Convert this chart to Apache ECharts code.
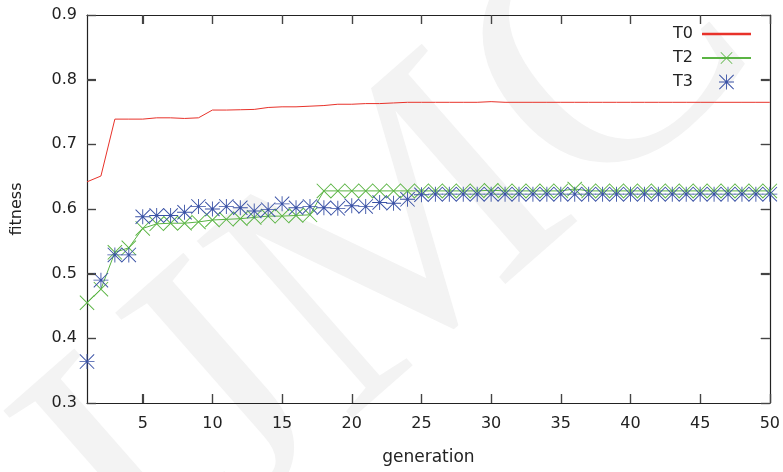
<!DOCTYPE html>
<html>
<head>
<meta charset="utf-8">
<script src="https://cdn.jsdelivr.net/npm/echarts@6/dist/echarts.min.js"></script>
<style>html,body{margin:0;padding:0;background:#fff}#c{width:783px;height:472px}</style>
</head>
<body>
<div id="c"></div>
<script>
var generations = [];
for (var g = 1; g <= 50; g++) generations.push(g);

var T0 = [0.642,0.651,0.739,0.739,0.739,0.741,0.741,0.740,0.741,0.753,
          0.753,0.7535,0.754,0.757,0.758,0.758,0.759,0.760,0.762,0.762,
          0.763,0.763,0.764,0.765,0.765,0.765,0.765,0.765,0.765,0.766,
          0.765,0.765,0.765,0.765,0.765,0.765,0.765,0.765,0.765,0.765,
          0.765,0.765,0.765,0.765,0.765,0.765,0.765,0.765,0.765,0.765];
var T2 = [0.455,0.476,0.533,0.540,0.570,0.577,0.578,0.578,0.580,0.583,
          0.584,0.585,0.587,0.589,0.589,0.590,0.591,0.628,0.628,0.628,
          0.628,0.628,0.628,0.628,0.628,0.628,0.628,0.628,0.628,0.629,
          0.628,0.628,0.628,0.628,0.628,0.631,0.628,0.628,0.628,0.628,
          0.628,0.628,0.628,0.628,0.628,0.628,0.628,0.628,0.628,0.628];
var T3 = [0.364,0.490,0.529,0.529,0.588,0.590,0.590,0.595,0.604,0.600,
          0.604,0.602,0.597,0.599,0.608,0.602,0.604,0.602,0.601,0.605,
          0.604,0.610,0.609,0.615,0.622,0.623,0.623,0.623,0.623,0.623,
          0.623,0.623,0.623,0.623,0.623,0.623,0.623,0.623,0.623,0.623,
          0.623,0.623,0.623,0.623,0.623,0.623,0.623,0.623,0.623,0.623];
var xTicks = [5,10,15,20,25,30,35,40,45,50];
var yTicks = [0.3,0.4,0.5,0.6,0.7,0.8,0.9];
var seriesNames = ['T0','T2','T3'];

function pairs(arr){ return arr.map(function(v,i){ return [generations[i], v]; }); }

var crossPath = 'path://M0,0.45L0.45,0L10,9.55L9.55,10Z M9.55,0L10,0.45L0.45,10L0,9.55Z';
var starPath = 'path://M0,0.45L0.45,0L10,9.55L9.55,10Z M9.55,0L10,0.45L0.45,10L0,9.55Z M4.7,0L5.3,0L5.3,10L4.7,10Z M0,4.7L10,4.7L10,5.3L0,5.3Z';

var font = 'DejaVu Sans';
var watermark = {
  type: 'text', z: -10, silent: true,
  x: 395, y: 255, rotation: 0.72,
  style: { text: 'IJMC', font: '360px "Liberation Serif"', fill: '#f3f3f3',
           align: 'center', verticalAlign: 'middle' }
};
function tick(custom){
  var t = { show: true, inside: true, length: 9, lineStyle: { color: '#444', width: 1.2 } };
  if (custom) t.customValues = custom;
  return t;
}
var chart = echarts.init(document.getElementById('c'), null, {renderer:'canvas'});
chart.setOption({
  backgroundColor: '#fff',
  animation: false,
  graphic: [watermark],
  grid: { left: 87, right: 10, top: 15, bottom: 69 },
  legend: {
    right: 31, top: 26, orient: 'vertical', align: 'right',
    padding: 0, itemGap: 8, itemWidth: 49, itemHeight: 15,
    textStyle: { fontFamily: font, fontSize: 16, color: '#222', padding: [0, 4, 0, 0] },
    data: [
      { name: 'T0', icon: 'path://M0,4.75L10,4.75L10,5.25L0,5.25Z' },
      { name: 'T2' },
      { name: 'T3' }
    ]
  },
  xAxis: [{
    type: 'value', min: 1, max: 50, position: 'bottom',
    name: 'generation', nameLocation: 'middle', nameGap: 46,
    nameTextStyle: { fontFamily: font, fontSize: 17, color: '#222' },
    axisLine: { show: true, lineStyle: { color: '#222', width: 1.2 } },
    axisTick: tick(xTicks),
    axisLabel: { show: true, customValues: xTicks, margin: 13, fontFamily: font, fontSize: 16, color: '#222' },
    splitLine: { show: false }
  }, {
    type: 'value', min: 1, max: 50, position: 'top',
    axisLine: { show: true, lineStyle: { color: '#222', width: 1.2 } },
    axisTick: tick(xTicks),
    axisLabel: { show: false, customValues: xTicks },
    splitLine: { show: false }
  }],
  yAxis: [{
    type: 'value', min: 0.3, max: 0.9, interval: 0.1, position: 'left',
    name: 'fitness', nameLocation: 'middle', nameGap: 62, nameRotate: 90,
    nameTextStyle: { fontFamily: font, fontSize: 16, color: '#222' },
    axisLine: { show: true, lineStyle: { color: '#222', width: 1.2 } },
    axisTick: tick(null),
    axisLabel: { margin: 10, fontFamily: font, fontSize: 16, color: '#222',
                 formatter: function(v){ return v.toFixed(1); } },
    splitLine: { show: false }
  }, {
    type: 'value', min: 0.3, max: 0.9, interval: 0.1, position: 'right',
    axisLine: { show: true, lineStyle: { color: '#222', width: 1.2 } },
    axisTick: tick(null),
    axisLabel: { show: false },
    splitLine: { show: false }
  }],
  series: [{
    name: seriesNames[0], type: 'line', data: pairs(T0),
    symbol: 'none', showSymbol: false,
    lineStyle: { color: '#e8322a', width: 1 }, itemStyle: { color: '#e8322a' }, z: 3
  }, {
    name: seriesNames[1], type: 'line', data: pairs(T2),
    symbol: crossPath, symbolSize: 15, showSymbol: true, showAllSymbol: true,
    lineStyle: { color: '#5ab443', width: 1 }, itemStyle: { color: '#5ab443' }, z: 4
  }, {
    name: seriesNames[2], type: 'scatter', data: pairs(T3),
    symbol: starPath, symbolSize: 15,
    itemStyle: { color: '#3a52a6', opacity: 1 }, z: 5
  }]
});

// Mirror tick marks placed through the library's own axis scales.
(function(){
  var TL = 9, st = { stroke: '#444', lineWidth: 1.2 };
  var x0 = chart.convertToPixel({ xAxisIndex: 0 }, 1);
  var x1 = chart.convertToPixel({ xAxisIndex: 0 }, 50);
  var yB = chart.convertToPixel({ yAxisIndex: 0 }, 0.3);
  var yT = chart.convertToPixel({ yAxisIndex: 0 }, 0.9);
  var els = [watermark];
  xTicks.forEach(function(v){
    var px = Math.round(chart.convertToPixel({ xAxisIndex: 0 }, v)) + 0.5;
    els.push({ type: 'line', silent: true, z: 10, shape: { x1: px, y1: yB, x2: px, y2: yB - TL }, style: st });
    els.push({ type: 'line', silent: true, z: 10, shape: { x1: px, y1: yT, x2: px, y2: yT + TL }, style: st });
  });
  yTicks.forEach(function(v){
    var py = Math.round(chart.convertToPixel({ yAxisIndex: 0 }, v)) + 0.5;
    els.push({ type: 'line', silent: true, z: 10, shape: { x1: x0, y1: py, x2: x0 + TL, y2: py }, style: st });
    els.push({ type: 'line', silent: true, z: 10, shape: { x1: x1, y1: py, x2: x1 - TL, y2: py }, style: st });
  });
  chart.setOption({ graphic: els });
})();
</script>
</body>
</html>
